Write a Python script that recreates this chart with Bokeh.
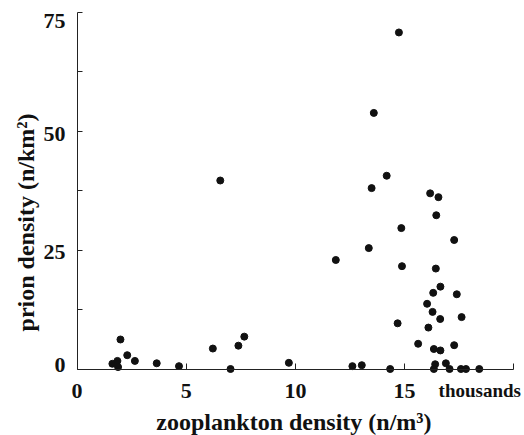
from math import pi
from bokeh.plotting import figure
from bokeh.models import Range1d, FixedTicker, Label, ColumnDataSource
from bokeh.embed import file_html
from bokeh.resources import INLINE

# ---- data ----
zooplankton_k = [1.62, 1.85, 1.88, 1.99, 2.30, 2.65, 3.65, 4.67, 6.22, 7.03,
                 7.39, 7.66, 9.70, 11.85, 12.61, 13.04, 13.36, 14.34, 14.68, 14.85,
                 14.88, 15.62, 16.03, 16.09, 16.28, 16.31, 16.34, 16.40, 16.34, 16.45,
                 16.43, 16.63, 16.64, 16.64, 16.89, 17.06, 17.27, 17.27, 17.39, 17.61,
                 17.58, 17.81, 18.42, 6.56, 14.74, 13.59, 14.18, 13.49, 16.17, 16.55]
prion_density = [1.1, 1.7, 0.4, 6.2, 2.9, 1.7, 1.2, 0.6, 4.3, 0.0,
                 4.9, 6.8, 1.3, 22.9, 0.6, 0.8, 25.4, 0.0, 9.6, 29.6,
                 21.6, 5.3, 13.7, 8.7, 12.0, 16.0, 4.2, 1.0, 0.0, 32.3,
                 21.1, 10.5, 17.3, 3.9, 1.2, 0.0, 27.1, 5.0, 15.7, 10.9,
                 0.0, 0.0, 0.0, 39.6, 70.7, 53.8, 40.6, 38.0, 36.9, 36.1]

x_ticks = [0, 5, 10, 15, 20]
x_tick_labels = ["0", "5", "10", "15", ""]
y_ticks = [0, 25, 50, 75]
y_minor_ticks = [12.5, 37.5, 62.5]
y_tick_labels = ["0", "25", "50", "75"]
x_title = "zooplankton density (n/m³)"
y_title = "prion density (n/km²)"
x_unit_note = "thousands"

# ---- style ----
FONT = "Liberation Serif"
INK = "#111111"
AXIS = "#222222"
y_label_nudge = {0: -4, 25: 2, 50: 3, 75: 9}   # px downward, as in the reference

source = ColumnDataSource(dict(x=zooplankton_k, y=prion_density))

# the frame spans the whole canvas; axes are drawn at x = 0 and y = 0
p = figure(width=524, height=435, min_border=0,
           x_range=Range1d(-3.503, 20.49), y_range=Range1d(-13.97, 77.416),
           output_backend="svg", toolbar_location=None)
p.outline_line_color = None
p.grid.visible = False
p.background_fill_color = "white"
p.border_fill_color = "white"

p.scatter("x", "y", source=source, size=7, color=INK, line_color=INK)

xa = p.xaxis[0]
xa.fixed_location = 0
xa.bounds = (0, 20)
xa.ticker = FixedTicker(ticks=x_ticks, minor_ticks=[])
xa.major_label_overrides = {t: s for t, s in zip(x_ticks, x_tick_labels)}
xa.major_tick_in = 6
xa.major_tick_out = 0
xa.minor_tick_in = 0
xa.minor_tick_out = 0
xa.axis_line_color = AXIS
xa.major_tick_line_color = AXIS
xa.major_label_standoff = 15
xa.major_label_text_font = FONT
xa.major_label_text_font_style = "bold"
xa.major_label_text_font_size = "22px"
xa.major_label_text_color = INK

ya = p.yaxis[0]
ya.fixed_location = 0
ya.bounds = (0, 75)
ya.ticker = FixedTicker(ticks=y_ticks, minor_ticks=y_minor_ticks)
ya.major_label_overrides = {t: "" for t in y_ticks}
ya.major_tick_in = 5
ya.major_tick_out = 0
ya.minor_tick_in = 5
ya.minor_tick_out = 0
ya.axis_line_color = AXIS
ya.major_tick_line_color = AXIS
ya.minor_tick_line_color = AXIS

for v, s in zip(y_ticks, y_tick_labels):
    p.add_layout(Label(x=0, y=v, x_offset=-11.5, y_offset=-y_label_nudge[v], text=s,
                       text_align="right", text_baseline="middle",
                       text_font=FONT, text_font_style="bold",
                       text_font_size="22px", text_color=INK))

p.add_layout(Label(x=20, y=0, x_offset=-34, y_offset=-21, text=x_unit_note,
                   text_align="center", text_baseline="alphabetic",
                   text_font=FONT, text_font_style="bold",
                   text_font_size="19px", text_color=INK))

p.add_layout(Label(x=10, y=0, x_offset=-1.5, y_offset=-53, text=x_title,
                   text_align="center", text_baseline="alphabetic",
                   text_font=FONT, text_font_style="bold",
                   text_font_size="24px", text_color=INK))

p.add_layout(Label(x=0, y=37.5, x_offset=-51, y_offset=-32, text=y_title,
                   angle=pi / 2, text_align="center", text_baseline="alphabetic",
                   text_font=FONT, text_font_style="bold",
                   text_font_size="24px", text_color=INK))

open("out.html", "w").write(file_html(p, INLINE))
